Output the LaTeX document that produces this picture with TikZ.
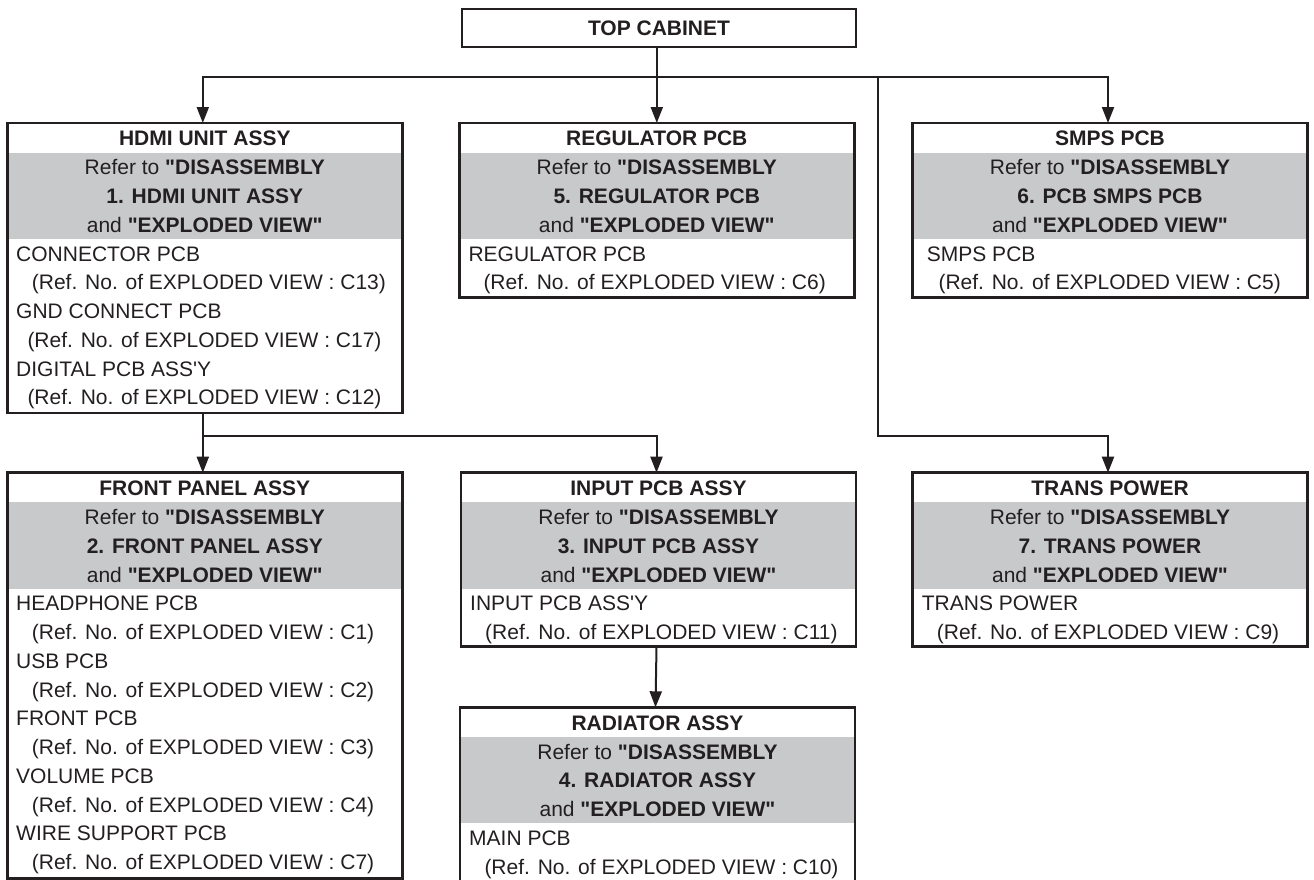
\documentclass[tikz,border=0pt]{standalone}
\usepackage{fontspec}
\newfontfamily\arial{Liberation Sans}
\usetikzlibrary{arrows.meta}
\definecolor{ink}{RGB}{35,31,32}
\definecolor{shadegray}{RGB}{200,201,203}
\tikzset{
  ubox/.style={draw=ink, line width=2.6pt, inner sep=0pt, outer sep=0pt, rectangle},
  shadefill/.style={fill=shadegray},
  titletext/.style={text=ink, inner sep=0pt, anchor=base, font=\arial\fontsize{21}{25}\selectfont\bfseries},
  reftext/.style={text=ink, inner sep=0pt, anchor=base, font=\arial\fontsize{21}{25}\selectfont},
  itemtext/.style={text=ink, inner sep=0pt, anchor=base west, font=\arial\fontsize{21}{25}\selectfont},
  conn/.style={draw=ink, line width=2pt},
  arr/.style={conn, -{Triangle[length=16pt,width=12pt]}}
}
\newcommand\unitblock[7]{%
  \fill[shadefill] (#2,{#3+29.7}) rectangle ({#2+#4},{#3+116.1});
  \node[ubox, minimum width=#4pt, minimum height=#5pt, anchor=north west] (#1) at (#2,#3) {};
  \node[titletext] (#1-t) at ({#2+#4/2},{#3+22.7}) {#6};
  \node[reftext] (#1-r1) at ({#2+#4/2},{#3+51.7}) {Refer to \textbf{"DISASSEMBLY}};
  \node[reftext] (#1-r2) at ({#2+#4/2},{#3+80.5}) {\textbf{#7}};
  \node[reftext] (#1-r3) at ({#2+#4/2},{#3+109.3}) {and \textbf{"EXPLODED VIEW"}};
}
\newcommand\itemrow[4]{\node[itemtext] (#1) at (#2,#3) {#4};}
\begin{document}
\begin{tikzpicture}[x=1pt,y=-1pt]
\useasboundingbox (0,0) rectangle (1314,879);
% top cabinet
\node[ubox, minimum width=394pt, minimum height=38pt, anchor=north west] (top) at (462,9) {};
\node[titletext] (top-t) at (659,35) {TOP CABINET};
% HDMI
\unitblock{hdmi}{7.3}{123}{395}{290}{HDMI UNIT ASSY}{1. HDMI UNIT ASSY}
\itemrow{hdmi-i1}{16}{261.1}{CONNECTOR PCB}
\itemrow{hdmi-i2}{31.7}{289.85}{(Ref. No. of EXPLODED VIEW : C13)}
\itemrow{hdmi-i3}{16}{318.6}{GND CONNECT PCB}
\itemrow{hdmi-i4}{27.3}{347.35}{(Ref. No. of EXPLODED VIEW : C17)}
\itemrow{hdmi-i5}{16}{376.1}{DIGITAL PCB ASS'Y}
\itemrow{hdmi-i6}{27.3}{404.85}{(Ref. No. of EXPLODED VIEW : C12)}
% Regulator
\unitblock{reg}{459.3}{123}{395}{174.7}{REGULATOR PCB}{5. REGULATOR PCB}
\itemrow{reg-i1}{468.3}{261.1}{REGULATOR PCB}
\itemrow{reg-i2}{483.3}{289.85}{(Ref. No. of EXPLODED VIEW : C6)}
% SMPS
\unitblock{smps}{912.7}{123}{394.6}{174.7}{SMPS PCB}{6. PCB SMPS PCB}
\itemrow{smps-i1}{926.7}{261.1}{SMPS PCB}
\itemrow{smps-i2}{938.3}{289.85}{(Ref. No. of EXPLODED VIEW : C5)}
% Front panel
\unitblock{front}{7.3}{472.7}{395}{405.6}{FRONT PANEL ASSY}{2. FRONT PANEL ASSY}
\itemrow{front-i1}{16}{610.8}{HEADPHONE PCB}
\itemrow{front-i2}{31.7}{639.55}{(Ref. No. of EXPLODED VIEW : C1)}
\itemrow{front-i3}{16}{668.3}{USB PCB}
\itemrow{front-i4}{31.7}{697.05}{(Ref. No. of EXPLODED VIEW : C2)}
\itemrow{front-i5}{16}{725.8}{FRONT PCB}
\itemrow{front-i6}{31.7}{754.55}{(Ref. No. of EXPLODED VIEW : C3)}
\itemrow{front-i7}{16}{783.3}{VOLUME PCB}
\itemrow{front-i8}{31.7}{812.05}{(Ref. No. of EXPLODED VIEW : C4)}
\itemrow{front-i9}{16}{840.8}{WIRE SUPPORT PCB}
\itemrow{front-i10}{31.7}{869.55}{(Ref. No. of EXPLODED VIEW : C7)}
% Input
\unitblock{input}{461}{472.7}{395}{174}{INPUT PCB ASSY}{3. INPUT PCB ASSY}
\itemrow{input-i1}{470}{610.8}{INPUT PCB ASS'Y}
\itemrow{input-i2}{485}{639.55}{(Ref. No. of EXPLODED VIEW : C11)}
% Trans
\unitblock{trans}{912.7}{472.7}{394.6}{174}{TRANS POWER}{7. TRANS POWER}
\itemrow{trans-i1}{921.7}{610.8}{TRANS POWER}
\itemrow{trans-i2}{936.7}{639.55}{(Ref. No. of EXPLODED VIEW : C9)}
% Radiator
\unitblock{rad}{460}{707.3}{395}{180}{RADIATOR ASSY}{4. RADIATOR ASSY}
\itemrow{rad-i1}{469}{845.4}{MAIN PCB}
\itemrow{rad-i2}{484.3}{874.15}{(Ref. No. of EXPLODED VIEW : C10)}
% connectors
\coordinate (bus) at (0,77);
\coordinate (bus2) at (0,436);
\coordinate (tapT) at (877.7,77);
\draw[arr] (reg.north |- top.south) -- (reg.north);
\draw[arr] (reg.north |- bus) -| ([xshift=-2pt]hdmi.north);
\draw[arr] (reg.north |- bus) -| ([xshift=-2pt]smps.north);
\draw[arr] (tapT) |- ([xshift=-2pt]trans.north |- bus2) -- ([xshift=-2pt]trans.north);
\draw[arr] ([xshift=-2pt]hdmi.south) -- ([xshift=-2pt]front.north);
\draw[arr] ([xshift=-2pt]hdmi.south |- bus2) -| ([xshift=-2pt]input.north);
\draw[arr] ([xshift=-2pt]input.south) -- ([xshift=-2pt]rad.north);
\end{tikzpicture}
\end{document}
